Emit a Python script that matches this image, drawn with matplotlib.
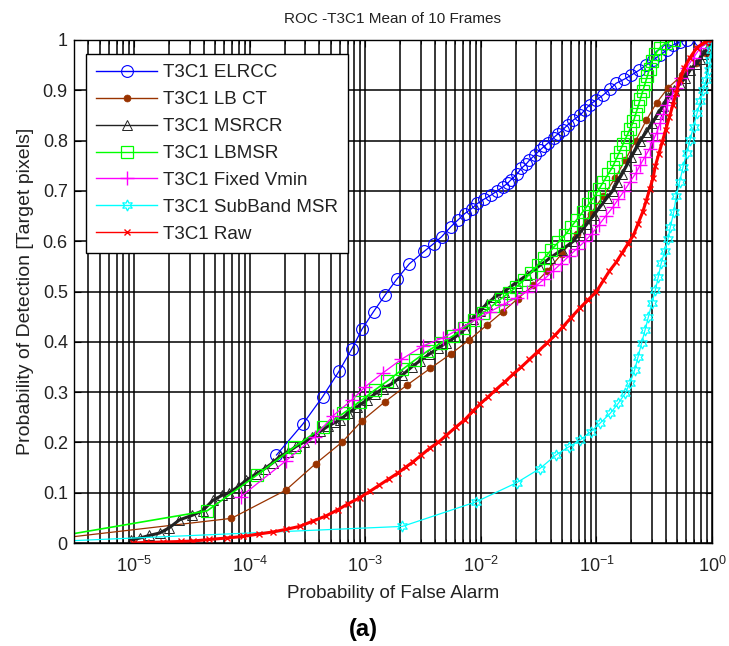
import numpy as np
import matplotlib
matplotlib.use("Agg")
import matplotlib.pyplot as plt
from matplotlib.ticker import LogLocator, FixedLocator, FuncFormatter

plt.rcParams["font.family"] = ["Liberation Sans", "DejaVu Sans"]
plt.rcParams["mathtext.fontset"] = "custom"
plt.rcParams["mathtext.rm"] = "Liberation Sans"
plt.rcParams["axes.unicode_minus"] = False

# ── Data (x stored as log10 of false-alarm probability) ─────────────────────────
elrcc_logx = [-3.77, -3.54, -3.37, -3.23, -3.12, -3.03, -2.93, -2.83, -2.73, -2.62,
              -2.49, -2.41, -2.34, -2.26, -2.20, -2.14, -2.08, -2.03, -1.97, -1.91,
              -1.86, -1.81, -1.77, -1.74, -1.69, -1.65, -1.61, -1.58, -1.53, -1.49,
              -1.45, -1.42, -1.37, -1.33, -1.29, -1.25, -1.20, -1.14, -1.10, -1.06,
              -1.00, -0.94, -0.88, -0.83, -0.76, -0.70, -0.63, -0.57, -0.51, -0.45,
              -0.39, -0.34, -0.28, -0.22, -0.10, 0.0]
elrcc_pd = [0.175, 0.237, 0.291, 0.341, 0.385, 0.425, 0.460, 0.493, 0.524, 0.555,
            0.580, 0.595, 0.609, 0.629, 0.642, 0.655, 0.665, 0.675, 0.684, 0.692,
            0.700, 0.708, 0.715, 0.722, 0.733, 0.745, 0.753, 0.761, 0.772, 0.781,
            0.789, 0.795, 0.806, 0.814, 0.822, 0.831, 0.841, 0.851, 0.861, 0.871,
            0.881, 0.891, 0.903, 0.914, 0.922, 0.930, 0.940, 0.950, 0.960, 0.970,
            0.980, 0.990, 0.996, 1.0, 1.0, 1.0]

lbct_logx = [-6.0, -4.16, -3.69, -3.43, -3.20, -3.03, -2.83, -2.64, -2.44, -2.26,
             -2.10, -1.95, -1.81, -1.68, -1.55, -1.43, -1.30, -1.17, -1.05, -0.94,
             -0.84, -0.75, -0.66, -0.57, -0.48, -0.38, -0.26, -0.14, -0.05, 0.0]
lbct_pd = [0.0, 0.049, 0.105, 0.158, 0.201, 0.243, 0.281, 0.314, 0.347, 0.376,
           0.404, 0.433, 0.460, 0.486, 0.512, 0.540, 0.575, 0.615, 0.655, 0.690,
           0.725, 0.762, 0.800, 0.840, 0.875, 0.905, 0.930, 0.955, 0.975, 1.0]

msrcr_logx = [-5.03, -4.95, -4.87, -4.78, -4.70, -4.61, -4.50, -4.41, -4.32, -4.24,
              -4.18, -4.10, -4.03, -3.95, -3.87, -3.80, -3.74, -3.67, -3.60, -3.53,
              -3.46, -3.39, -3.32, -3.26, -3.22, -3.15, -3.07, -2.99, -2.92, -2.85,
              -2.76, -2.68, -2.60, -2.53, -2.45, -2.37, -2.30, -2.22, -2.14, -2.07,
              -2.01, -1.95, -1.88, -1.80, -1.70, -1.60, -1.50, -1.40, -1.30, -1.20,
              -1.14, -1.08, -1.02, -0.96, -0.91, -0.86, -0.82, -0.78, -0.74, -0.70,
              -0.66, -0.62, -0.57, -0.52, -0.47, -0.42, -0.38, -0.33, -0.28, -0.23,
              -0.19, -0.14, -0.10, -0.075, -0.04, 0.0]
msrcr_pd = [0.006, 0.010, 0.015, 0.020, 0.030, 0.046, 0.055, 0.064, 0.085, 0.095,
            0.100, 0.112, 0.125, 0.137, 0.148, 0.160, 0.172, 0.181, 0.192, 0.201,
            0.211, 0.222, 0.233, 0.240, 0.245, 0.258, 0.271, 0.284, 0.296, 0.307,
            0.318, 0.334, 0.350, 0.362, 0.375, 0.388, 0.398, 0.410, 0.425, 0.445,
            0.462, 0.475, 0.489, 0.500, 0.517, 0.533, 0.550, 0.567, 0.583, 0.600,
            0.618, 0.635, 0.653, 0.671, 0.686, 0.700, 0.717, 0.733, 0.750, 0.767,
            0.783, 0.800, 0.817, 0.834, 0.852, 0.869, 0.886, 0.900, 0.912, 0.925,
            0.940, 0.952, 0.963, 0.973, 0.982, 1.0]

lbmsr_logx = [-6.0, -4.37, -3.94, -3.62, -3.37, -3.19, -3.05, -2.92, -2.81, -2.68,
              -2.57, -2.46, -2.35, -2.24, -2.15, -2.06, -1.98, -1.90, -1.83, -1.76,
              -1.70, -1.63, -1.57, -1.51, -1.45, -1.39, -1.33, -1.27, -1.22, -1.17,
              -1.12, -1.07, -1.02, -0.98, -0.94, -0.90, -0.86, -0.83, -0.80, -0.77,
              -0.74, -0.71, -0.68, -0.66, -0.64, -0.62, -0.60, -0.58, -0.56, -0.54,
              -0.52, -0.49, -0.45, -0.40, -0.33, 0.0]
lbmsr_pd = [0.0, 0.064, 0.135, 0.190, 0.230, 0.258, 0.281, 0.304, 0.322, 0.345,
            0.364, 0.382, 0.397, 0.412, 0.427, 0.443, 0.458, 0.472, 0.485, 0.497,
            0.508, 0.522, 0.537, 0.552, 0.567, 0.583, 0.598, 0.613, 0.628, 0.643,
            0.658, 0.673, 0.688, 0.703, 0.718, 0.733, 0.748, 0.763, 0.778, 0.793,
            0.808, 0.823, 0.838, 0.853, 0.868, 0.883, 0.898, 0.913, 0.928, 0.943,
            0.958, 0.972, 0.985, 0.994, 1.0, 1.0]

vmin_logx = [-4.08, -3.69, -3.44, -3.28, -3.12, -3.00, -2.85, -2.69, -2.50, -2.33,
             -2.19, -2.04, -1.92, -1.80, -1.69, -1.60, -1.52, -1.45, -1.38, -1.31,
             -1.24, -1.17, -1.10, -1.04, -0.98, -0.92, -0.86, -0.81, -0.76, -0.71,
             -0.66, -0.62, -0.58, -0.54, -0.51, -0.48, -0.45, -0.42, -0.39, -0.35,
             -0.31, -0.27, -0.22, -0.16, -0.10, -0.04, 0.0]
vmin_pd = [0.092, 0.163, 0.211, 0.253, 0.284, 0.311, 0.338, 0.365, 0.392, 0.408,
           0.425, 0.445, 0.460, 0.475, 0.488, 0.500, 0.512, 0.525, 0.540, 0.555,
           0.570, 0.585, 0.600, 0.615, 0.632, 0.650, 0.667, 0.684, 0.700, 0.718,
           0.735, 0.752, 0.768, 0.784, 0.800, 0.815, 0.835, 0.852, 0.870, 0.888,
           0.905, 0.925, 0.945, 0.965, 0.985, 0.995, 1.0]

subband_logx = [-6.0, -2.68, -2.04, -1.69, -1.49, -1.35, -1.24, -1.14, -1.05, -0.97,
                -0.88, -0.81, -0.75, -0.71, -0.67, -0.64, -0.61, -0.58, -0.55, -0.52,
                -0.49, -0.465, -0.44, -0.41, -0.38, -0.36, -0.33, -0.31, -0.28, -0.25,
                -0.22, -0.19, -0.16, -0.13, -0.10, -0.075, -0.05, -0.03, -0.015, -0.005, 0.0]
subband_pd = [0.0, 0.033, 0.082, 0.120, 0.148, 0.175, 0.191, 0.205, 0.221, 0.238,
              0.258, 0.278, 0.298, 0.318, 0.344, 0.370, 0.397, 0.423, 0.450, 0.477,
              0.503, 0.529, 0.556, 0.580, 0.605, 0.629, 0.659, 0.689, 0.718, 0.748,
              0.775, 0.801, 0.828, 0.854, 0.878, 0.901, 0.921, 0.940, 0.960, 0.980, 1.0]

raw_logx = [-5.01, -4.90, -4.75, -4.60, -4.49, -4.35, -4.20, -4.06, -3.92, -3.80,
            -3.69, -3.57, -3.45, -3.34, -3.24, -3.15, -3.05, -2.96, -2.88, -2.80,
            -2.72, -2.65, -2.59, -2.52, -2.44, -2.37, -2.30, -2.22, -2.14, -2.07,
            -2.01, -1.94, -1.87, -1.79, -1.72, -1.65, -1.58, -1.51, -1.43, -1.36,
            -1.29, -1.22, -1.14, -1.07, -1.00, -0.94, -0.89, -0.83, -0.78, -0.73,
            -0.68, -0.64, -0.60, -0.57, -0.54, -0.51, -0.49, -0.46, -0.43, -0.40,
            -0.37, -0.34, -0.31, -0.28, -0.24, -0.19, -0.13, -0.06, 0.0]
raw_pd = [0.000, 0.001, 0.002, 0.003, 0.004, 0.007, 0.010, 0.013, 0.018, 0.022,
          0.027, 0.033, 0.044, 0.054, 0.066, 0.078, 0.090, 0.103, 0.115, 0.127,
          0.139, 0.151, 0.161, 0.174, 0.189, 0.200, 0.214, 0.230, 0.245, 0.262,
          0.276, 0.290, 0.305, 0.321, 0.336, 0.350, 0.365, 0.380, 0.397, 0.413,
          0.430, 0.448, 0.468, 0.484, 0.500, 0.522, 0.540, 0.558, 0.576, 0.594,
          0.612, 0.635, 0.658, 0.680, 0.703, 0.726, 0.750, 0.774, 0.798, 0.822,
          0.846, 0.870, 0.895, 0.920, 0.945, 0.965, 0.985, 0.996, 1.0]

# ── Styles (plot order = legend order, later series on top) ─────────────────────
series = [
    ("T3C1 ELRCC", elrcc_logx, elrcc_pd,
     dict(color="#0000ff", marker="o", ms=8.5, mfc="none", mew=0.8, lw=0.9)),
    ("T3C1 LB CT", lbct_logx, lbct_pd,
     dict(color="#993300", marker="o", ms=5, mfc="#993300", mew=0.5, lw=0.9)),
    ("T3C1 MSRCR", msrcr_logx, msrcr_pd,
     dict(color="#222222", marker="^", ms=7, mfc="none", mew=0.7, lw=2.2)),
    ("T3C1 LBMSR", lbmsr_logx, lbmsr_pd,
     dict(color="#00ff00", marker="s", ms=8, mfc="none", mew=0.9, lw=1.2)),
    ("T3C1 Fixed Vmin", vmin_logx, vmin_pd,
     dict(color="#ff00ff", marker="+", ms=10, mew=1.0, lw=0.9)),
    ("T3C1 SubBand MSR", subband_logx, subband_pd,
     dict(color="#00ffff", marker=(6, 1, 0), ms=8, mfc="none", mew=0.9, lw=0.9)),
    ("T3C1 Raw", raw_logx, raw_pd,
     dict(color="#ff0000", marker="x", ms=5, mew=1.0, lw=2.2)),
]

fig = plt.figure(figsize=(7.29, 6.46), dpi=100)
ax = fig.add_axes([74 / 729, 1 - 543 / 646, 638 / 729, 503 / 646])

for name, lx, pd_, st in series:
    ax.semilogx(10 ** np.array(lx), pd_, label=name, **st)

ax.set_xlim(3e-6, 1)
ax.set_ylim(0, 1)
ax.xaxis.set_major_locator(LogLocator(base=10, numticks=10))
ax.xaxis.set_minor_locator(LogLocator(base=10, subs=np.arange(2, 10), numticks=20))
ax.yaxis.set_major_locator(FixedLocator(np.round(np.arange(0, 1.01, 0.1), 1)))
ax.yaxis.set_major_formatter(FuncFormatter(lambda v, p: f"{v:g}"))

ax.grid(True, which="major", color="k", lw=1.1)
ax.xaxis.grid(True, which="minor", color="k", lw=1.1)
ax.set_axisbelow(True)
ax.tick_params(which="both", direction="in", top=True, right=True,
               labelsize=13, labelcolor="#222222", color="k")
ax.tick_params(which="major", length=5)
ax.tick_params(which="minor", length=3)
ax.tick_params(axis="x", which="major", pad=9)
ax.tick_params(axis="y", which="major", pad=4.5)
for sp in ax.spines.values():
    sp.set_color("k")
    sp.set_linewidth(1.0)

ax.set_title("ROC -T3C1 Mean of 10 Frames", fontsize=11, color="#222222", pad=12)
ax.set_xlabel("Probability of False Alarm", fontsize=13.5, color="#222222", labelpad=7)
ax.set_ylabel("Probability of Detection [Target pixels]", fontsize=14,
              color="#222222", labelpad=6)

leg = ax.legend(loc="upper left", bbox_to_anchor=(12 / 638, 1 - 14 / 503),
                borderaxespad=0, fontsize=13.5, fancybox=False, framealpha=1,
                edgecolor="k", handlelength=3.25, labelspacing=0.52,
                handletextpad=0.3, borderpad=0.55)
leg.get_frame().set_linewidth(1.0)
for ln in leg.get_lines():
    ln.set_linewidth(1.0)
for t in leg.get_texts():
    t.set_color("#222222")

fig.text(0.499, 0.025, "(a)", fontsize=17, fontweight="bold", ha="center", va="center")

fig.savefig("out.png", dpi=100)
